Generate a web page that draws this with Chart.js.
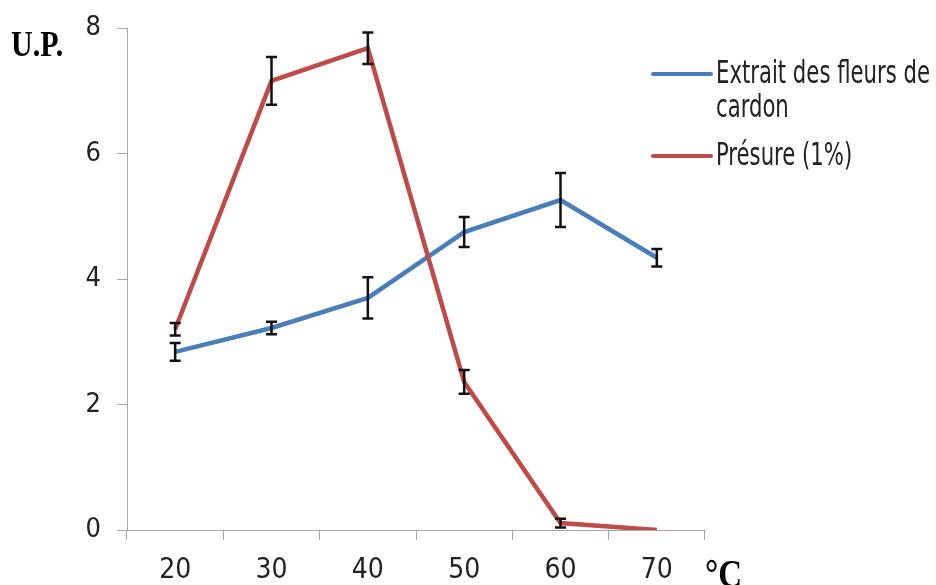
<!DOCTYPE html>
<html>
<head>
<meta charset="utf-8">
<script src="https://cdn.jsdelivr.net/npm/chart.js@4/dist/chart.umd.min.js"></script>
<style>
  html, body { margin: 0; padding: 0; background: #fff; }
  #wrap { position: relative; width: 936px; height: 585px; }
</style>
</head>
<body>
<div id="wrap"><canvas id="c" width="936" height="585"></canvas></div>
<script>
// ---- data ----
const temperatures = ['20', '30', '40', '50', '60', '70'];
const extraitValues = [2.84, 3.22, 3.70, 4.75, 5.26, 4.34];
const extraitErrors = [0.14, 0.10, 0.33, 0.24, 0.43, 0.14];
const presureValues = [3.20, 7.16, 7.68, 2.36, 0.11, 0.00];
const presureErrors = [0.10, 0.38, 0.25, 0.19, 0.07, 0];
const seriesNameLines = [['Extrait des fleurs de', 'cardon'], ['Présure (1%)']];
const yTicks = [0, 2, 4, 6, 8];
const yAxisTitle = 'U.P.';
const xAxisTitle = '°C';

const FONT = "'Liberation Sans Narrow', 'DejaVu Sans Condensed', 'Liberation Sans', sans-serif";
const TEXT = '#222';
const AXIS = '#a8a8a8';

const errorBarPlugin = {
  id: 'errorBars',
  afterDatasetsDraw(chart) {
    const ctx = chart.ctx;
    const y = chart.scales.y;
    ctx.save();
    ctx.strokeStyle = '#111';
    ctx.lineWidth = 2.5;
    chart.data.datasets.forEach((ds, di) => {
      const meta = chart.getDatasetMeta(di);
      meta.data.forEach((pt, i) => {
        const e = ds.errors[i];
        if (!e) return;
        const v = ds.data[i];
        const x = pt.x;
        const yt = y.getPixelForValue(v + e);
        const yb = y.getPixelForValue(v - e);
        const cw = 5.5;
        ctx.beginPath();
        ctx.moveTo(x, yt); ctx.lineTo(x, yb);
        ctx.moveTo(x - cw, yt); ctx.lineTo(x + cw, yt);
        ctx.moveTo(x - cw, yb); ctx.lineTo(x + cw, yb);
        ctx.stroke();
      });
    });
    ctx.restore();
  }
};

const decorPlugin = {
  id: 'decor',
  afterDraw(chart) {
    const ctx = chart.ctx;
    ctx.save();
    ctx.fillStyle = '#000';
    ctx.font = "bold 30px 'Liberation Serif', 'DejaVu Serif', serif";
    ctx.textBaseline = 'alphabetic';
    ctx.textAlign = 'left';
    ctx.save(); ctx.translate(11, 56); ctx.scale(1, 1.2); ctx.fillText(yAxisTitle, 0, 0); ctx.restore();
    ctx.font = "bold 33px 'Liberation Serif', 'DejaVu Serif', serif";
    ctx.save(); ctx.translate(705, 587); ctx.scale(1, 1.2); ctx.fillText(xAxisTitle, 0, 0); ctx.restore();

    const sampleX0 = 653, sampleX1 = 711, textX = 716, maxW = 214;
    const lineH = 34;
    ctx.font = '29px ' + FONT;
    ctx.textBaseline = 'middle';
    let longest = 0;
    seriesNameLines.forEach(ls => ls.forEach(l => { longest = Math.max(longest, ctx.measureText(l).width); }));
    const sx = Math.min(1, maxW / longest);
    let yPos = 75;
    chart.data.datasets.forEach((ds, di) => {
      const lines = seriesNameLines[di];
      ctx.strokeStyle = ds.borderColor;
      ctx.lineWidth = 4;
      ctx.lineCap = 'round';
      ctx.beginPath(); ctx.moveTo(sampleX0, yPos - 1); ctx.lineTo(sampleX1, yPos - 1); ctx.stroke();
      ctx.fillStyle = TEXT;
      lines.forEach((l, k) => {
        ctx.save();
        ctx.translate(textX, yPos + k * lineH);
        ctx.scale(sx, 1.1);
        ctx.fillText(l, 0, 0);
        ctx.restore();
      });
      yPos += lines.length * lineH + 14;
    });
    ctx.restore();
  }
};

new Chart(document.getElementById('c'), {
  type: 'line',
  data: {
    labels: temperatures,
    datasets: [
      { label: seriesNameLines[0].join(' '), data: extraitValues, errors: extraitErrors,
        borderColor: '#4A7EBB', borderWidth: 4.5, pointRadius: 0, tension: 0, order: 1 },
      { label: seriesNameLines[1].join(' '), data: presureValues, errors: presureErrors,
        borderColor: '#BE4B48', borderWidth: 4.5, pointRadius: 0, tension: 0, order: 0 }
    ]
  },
  options: {
    responsive: false,
    animation: false,
    events: [],
    layout: { padding: { top: 20, right: 231, bottom: 0, left: 0 } },
    plugins: { legend: { display: false }, tooltip: { enabled: false } },
    scales: {
      x: {
        offset: true,
        grid: { offset: true, drawOnChartArea: false, tickLength: 10, color: AXIS },
        border: { color: AXIS, width: 1 },
        ticks: { color: TEXT, font: { family: FONT, size: 28 }, padding: 14, maxRotation: 0 },
        afterFit(s) { s.height = 55; }
      },
      y: {
        min: 0, max: 8,
        afterBuildTicks(s) { s.ticks = yTicks.map(v => ({ value: v })); },
        grid: { drawOnChartArea: false, tickLength: 10, color: AXIS },
        border: { color: AXIS, width: 1 },
        ticks: { color: TEXT, font: { family: FONT, size: 27, lineHeight: 0.9 }, padding: 16 },
        afterFit(s) { s.width = 127; }
      }
    }
  },
  plugins: [errorBarPlugin, decorPlugin]
});
</script>
</body>
</html>
